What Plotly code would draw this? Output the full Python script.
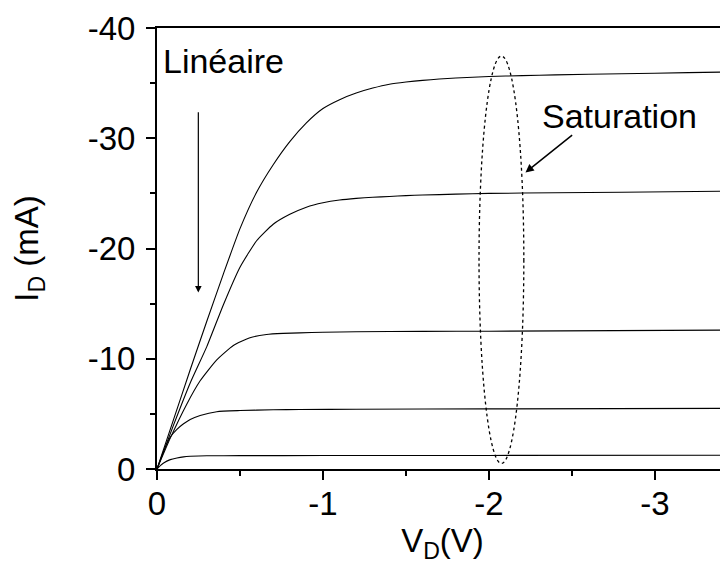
import plotly.graph_objects as go

# ---- data ----
v1 = [0, -0.1, -0.2, -0.3, -0.4, -0.5, -0.6, -0.7, -0.8, -0.9, -1.0, -1.1, -1.2, -1.3, -1.4, -1.5, -1.6, -1.7, -1.8, -2.0, -2.2, -2.4, -2.8, -3.2, -3.4]
i1 = [0, -4.5, -9.0, -13.4, -17.7, -21.8, -25.1, -27.6, -29.7, -31.4, -32.7, -33.5, -34.1, -34.55, -34.9, -35.1, -35.25, -35.37, -35.47, -35.6, -35.68, -35.75, -35.85, -35.95, -36.0]

v2 = [0, -0.1, -0.2, -0.3, -0.4, -0.5, -0.6, -0.7, -0.8, -0.9, -1.0, -1.1, -1.2, -1.3, -1.4, -1.5, -1.6, -1.8, -2.0, -2.4, -2.8, -3.4]
i2 = [0, -4.0, -7.8, -11.1, -14.9, -18.3, -20.7, -22.2, -23.1, -23.75, -24.15, -24.4, -24.55, -24.65, -24.72, -24.8, -24.85, -24.93, -25.0, -25.05, -25.1, -25.2]

v3 = [0, -0.08, -0.18, -0.26, -0.36, -0.46, -0.56, -0.66, -0.76, -0.86, -1.0, -1.2, -1.6, -2.0, -3.4]
i3 = [0, -2.8, -5.9, -8.0, -9.9, -11.2, -11.9, -12.2, -12.3, -12.35, -12.4, -12.45, -12.48, -12.5, -12.6]

v4 = [0, -0.04, -0.08, -0.12, -0.16, -0.2, -0.26, -0.36, -0.5, -0.7, -0.86, -1.2, -2.0, -3.4]
i4 = [0, -1.6, -2.9, -3.6, -4.1, -4.5, -4.85, -5.2, -5.3, -5.37, -5.4, -5.42, -5.45, -5.5]

v5 = [0, -0.02, -0.04, -0.08, -0.12, -0.16, -0.2, -0.3, -0.5, -1.0, -2.0, -3.4]
i5 = [0, -0.3, -0.55, -0.85, -1.0, -1.1, -1.15, -1.2, -1.21, -1.22, -1.23, -1.25]

curves = [(v1, i1), (v2, i2), (v3, i3), (v4, i4), (v5, i5)]

x_ticks = [0, -1, -2, -3]
x_ticktext = ["0", "-1", "-2", "-3"]
y_ticks = [0, -10, -20, -30, -40]
y_ticktext = ["0", "-10", "-20", "-30", "-40"]

# ellipse around saturation region
ell_v = [-1.94, -2.21]
ell_i = [-0.5, -37.45]

FONT = "Liberation Sans, Arial, sans-serif"
FS = 33
FA = 34

fig = go.Figure()
for v, i in curves:
    fig.add_trace(go.Scatter(x=v, y=i, mode="lines",
                             line=dict(color="black", width=1.1, shape="spline", smoothing=0.5),
                             showlegend=False, hoverinfo="skip"))

fig.add_shape(type="circle", xref="x", yref="y", x0=ell_v[0], x1=ell_v[1], y0=ell_i[0], y1=ell_i[1],
              line=dict(color="black", width=1.3, dash="dot"))

# Linéaire annotation
fig.add_annotation(x=-0.40, y=-37.0, text="Linéaire", showarrow=False, font=dict(family=FONT, size=FA, color="black"))
fig.add_annotation(x=-0.249, y=-16.0, ax=-0.249, ay=-32.5, xref="x", yref="y", axref="x", ayref="y", text="",
                   showarrow=True, arrowhead=2, arrowsize=1.1, arrowwidth=1.2, arrowcolor="black")
# Saturation annotation
fig.add_annotation(x=-2.786, y=-32.05, text="Saturation", showarrow=False, font=dict(family=FONT, size=FA, color="black"))
fig.add_annotation(x=-2.22, y=-26.9, ax=-2.51, ay=-30.4, xref="x", yref="y", axref="x", ayref="y", text="",
                   showarrow=True, arrowhead=2, arrowsize=1.1, arrowwidth=1.5, arrowcolor="black")

fig.update_layout(
    width=720, height=562,
    margin=dict(l=149, r=0, t=20, b=101, autoexpand=False),
    paper_bgcolor="white", plot_bgcolor="white",
    font=dict(family=FONT, size=FS, color="black"),
)
fig.update_xaxes(
    range=[0, -3.44], tickvals=x_ticks, ticktext=x_ticktext,
    showgrid=False, zeroline=False, showline=True, linecolor="black", linewidth=2, mirror=True,
    ticks="outside", ticklen=9, tickwidth=2, tickcolor="black", ticklabelstandoff=-5,
    minor=dict(ticks="outside", ticklen=5, tickwidth=2, tickcolor="black", dtick=0.5, tick0=0, showgrid=False),
    title=dict(text="V<sub>D</sub>(V)", font=dict(size=FS), standoff=6),
    automargin=False,
)
fig.update_yaxes(
    range=[0, -40], tickvals=y_ticks, ticktext=y_ticktext,
    showgrid=False, zeroline=False, showline=True, linecolor="black", linewidth=2, mirror=False,
    ticks="outside", ticklen=9, tickwidth=2, tickcolor="black", ticklabelstandoff=4,
    minor=dict(ticks="outside", ticklen=5, tickwidth=2, tickcolor="black", dtick=5, tick0=0, showgrid=False),
    title=dict(text="I<sub>D</sub> (mA)", font=dict(size=FS), standoff=43),
    automargin=False,
)

fig.write_html("out.html")
